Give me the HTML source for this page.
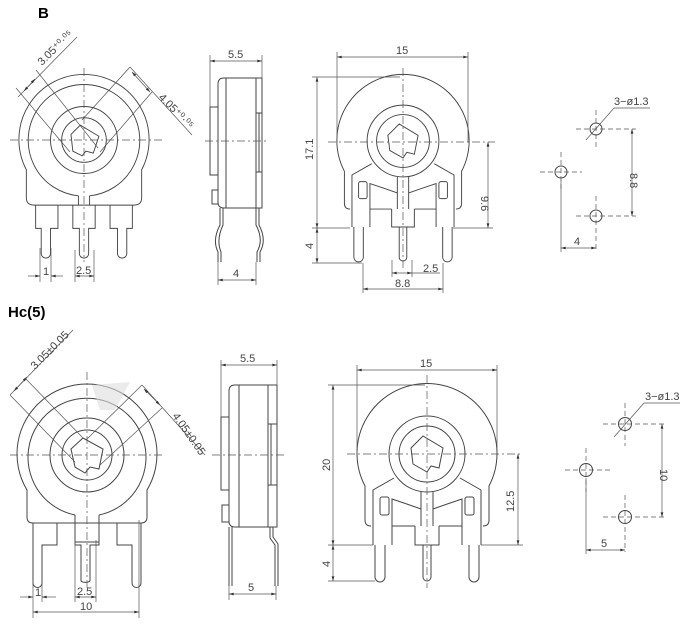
<!DOCTYPE html>
<html><head><meta charset="utf-8"><style>
html,body{margin:0;padding:0;background:#fff;}
svg{display:block;font-family:"Liberation Sans",sans-serif;}
.l{fill:none;stroke:#444;stroke-width:1;}
.t{fill:none;stroke:#555;stroke-width:0.7;}
.c{fill:none;stroke:#555;stroke-width:0.7;stroke-dasharray:8 3 2 3;}
.d{fill:none;stroke:#555;stroke-width:0.7;stroke-dasharray:5 3;}
text{fill:#444;font-size:11px;}
.h{fill:#000;font-weight:bold;font-size:15px;}
</style></head><body>
<svg width="690" height="624" viewBox="0 0 690 624" xmlns="http://www.w3.org/2000/svg">
<defs>
<marker id="a" viewBox="0 0 10 6" refX="10" refY="3" markerWidth="7" markerHeight="4" orient="auto-start-reverse"><path d="M0 0L10 3L0 6z" fill="#333"/></marker>
</defs>
<text x="38" y="18" class="h">B</text>
<text x="8" y="317" class="h">Hc(5)</text>

<!-- ========== Front view A (top-left) ========== -->
<g transform="translate(84,140) scale(0.93)">
 <g class="l">
  <path d="M-62 32 A70 70 0 1 1 62 32 V62 Q62 70 54 70 H-54 Q-62 70 -62 62 Z"/>
  <path d="M-6 60 A60 60 0 1 1 6 60"/>
  <line x1="-6" y1="60" x2="-6" y2="70"/><line x1="6" y1="60" x2="6" y2="70"/>
  <circle r="36"/><circle r="24"/>
  <path d="M-14 -6 L-4 -16 L16 -4 L10 14 L2 12 L-2 17 L-12 12 Z"/>
  <path d="M-52 70 V95 H-46 V122 A5 5 0 0 0 -36 122 V95 H-28 V70"/>
  <path d="M-12 70 V95 H-5 V122 A5 5 0 0 0 5 122 V95 H12 V70"/>
  <path d="M28 70 V95 H36 V122 A5 5 0 0 0 46 122 V95 H52 V70"/>
 </g>
</g>
<line class="c" x1="10" y1="140" x2="165" y2="140"/>
<line class="c" x1="84" y1="68" x2="84" y2="262"/>
<line class="t" x1="18" y1="97" x2="77" y2="37"/>
<line class="t" x1="16" y1="88" x2="70" y2="152" />
<line class="t" x1="36" y1="70" x2="98" y2="148"/>
<line class="t" x1="24" y1="91" x2="35" y2="79" marker-end="url(#a)" marker-start="url(#a)"/>
<text x="42" y="66" transform="rotate(-45 42 66)">3.05⁺⁰·⁰⁵</text>
<line class="t" x1="130" y1="67" x2="192" y2="135"/>
<line class="t" x1="130" y1="67" x2="82" y2="120"/>
<line class="t" x1="152" y1="92" x2="100" y2="152"/>
<line class="t" x1="132" y1="72" x2="150" y2="92" marker-end="url(#a)" marker-start="url(#a)"/>
<text x="158" y="98" transform="rotate(45 158 98)">4.05⁺⁰·⁰⁵</text>
<line class="t" x1="40" y1="248" x2="40" y2="282"/><line class="t" x1="51" y1="248" x2="51" y2="282"/>
<line class="t" x1="28" y1="276" x2="40" y2="276" marker-end="url(#a)"/><line class="t" x1="63" y1="276" x2="51" y2="276" marker-end="url(#a)"/>
<text x="43" y="275" font-size="10">1</text>
<line class="t" x1="75" y1="250" x2="75" y2="282"/><line class="t" x1="94" y1="250" x2="94" y2="282"/>
<line class="t" x1="75" y1="276" x2="94" y2="276" marker-end="url(#a)" marker-start="url(#a)"/>
<text x="76" y="274" font-size="10">2.5</text>

<!-- ========== Side view top ========== -->
<g class="l">
 <path d="M262 78 H224 Q218 78 218 84 V202 Q218 208 224 208 H262 Z"/>
 <line x1="226" y1="78" x2="226" y2="208"/>
 <rect x="210" y="107" width="8" height="68"/>
 <rect x="212" y="190" width="6" height="14"/>
 <path d="M256 78 V113 H262 M256 113 V172 H262 M256 172 V208"/><line x1="259" y1="113" x2="259" y2="172"/>
 <path d="M220 208 V225 Q212 240 218 252 V262 M223 208 V225 Q216 240 221 252 V262"/>
 <path d="M256 208 V225 Q264 240 257 252 V262 M259 208 V225 Q267 240 260 252 V262"/>
</g>
<line class="c" x1="205" y1="141" x2="268" y2="141"/>
<line class="t" x1="210" y1="55" x2="210" y2="107"/><line class="t" x1="262" y1="55" x2="262" y2="78"/>
<line class="t" x1="210" y1="61" x2="262" y2="61" marker-end="url(#a)" marker-start="url(#a)"/>
<text x="228" y="58">5.5</text>
<line class="t" x1="218" y1="262" x2="218" y2="285"/><line class="t" x1="256" y1="262" x2="256" y2="285"/>
<line class="t" x1="218" y1="280" x2="256" y2="280" marker-end="url(#a)" marker-start="url(#a)"/>
<text x="233" y="277">4</text>

<!-- ========== Front view B (top-right) ========== -->
<g transform="translate(403,141) scale(0.945)">
 <g class="l">
  <path d="M-62 32 A70 70 0 1 1 62 32 V66 Q62 72 56 72 M-62 32 V66 Q-62 72 -56 72"/>
  <circle r="38"/><circle r="28"/>
  <path d="M-16 -6 L-4 -18 L16 -6 L12 14 L4 12 L0 18 L-14 10 Z"/>
  <path d="M-54 91 V36 L-33 24 M54 91 V36 L33 24"/>
  <path d="M-35 91 V60 M35 91 V60 M-35 72 H-12 M35 72 H12"/>
  <path d="M-35 60 V45 Q-20 50 -6 55 M35 60 V45 Q20 50 6 55"/>
  <rect x="-47" y="43" width="9" height="18" rx="2"/><rect x="38" y="43" width="9" height="18" rx="2"/>
  <path d="M-6 38 V72 M6 38 V72 M-12 72 V91 H12 V72"/>
  <path d="M-4 91 V123 A4 4 0 0 0 4 123 V91"/>
  <path d="M-52 91 V123 A5 5 0 0 0 -42 123 V91"/>
  <path d="M42 91 V123 A5 5 0 0 0 52 123 V91"/>
 </g>
</g>
<line class="c" x1="328" y1="142" x2="495" y2="142"/>
<line class="c" x1="403" y1="68" x2="403" y2="268"/>
<line class="t" x1="337" y1="52" x2="337" y2="142"/><line class="t" x1="468" y1="52" x2="468" y2="142"/>
<line class="t" x1="337" y1="57" x2="468" y2="57" marker-end="url(#a)" marker-start="url(#a)"/>
<text x="396" y="54">15</text>
<line class="t" x1="312" y1="77" x2="400" y2="77"/><line class="t" x1="312" y1="228" x2="350" y2="228"/><line class="t" x1="312" y1="263" x2="362" y2="263"/>
<line class="t" x1="317" y1="77" x2="317" y2="228" marker-end="url(#a)" marker-start="url(#a)"/>
<line class="t" x1="317" y1="228" x2="317" y2="263" marker-end="url(#a)" marker-start="url(#a)"/>
<text x="313" y="160" transform="rotate(-90 313 160)">17.1</text>
<text x="313" y="249" transform="rotate(-90 313 249)">4</text>
<line class="t" x1="453" y1="228" x2="493" y2="228"/>
<line class="t" x1="488" y1="142" x2="488" y2="228" marker-end="url(#a)" marker-start="url(#a)"/>
<text x="497" y="190" transform="rotate(90 486 185)">9.6</text>
<line class="t" x1="363" y1="263" x2="363" y2="293"/><line class="t" x1="443" y1="263" x2="443" y2="293"/>
<line class="t" x1="363" y1="289" x2="443" y2="289" marker-end="url(#a)" marker-start="url(#a)"/>
<text x="395" y="287">8.8</text>
<line class="t" x1="392" y1="260" x2="392" y2="277"/><line class="t" x1="412" y1="260" x2="412" y2="277"/>
<line class="t" x1="392" y1="273" x2="412" y2="273" marker-end="url(#a)" marker-start="url(#a)"/>
<text x="423" y="272">2.5</text><line class="t" x1="412" y1="273" x2="440" y2="273"/>

<!-- ========== Holes top ========== -->
<g class="l"><circle cx="596" cy="129" r="6"/><circle cx="561" cy="172" r="6"/><circle cx="596" cy="216" r="6"/></g>
<g class="d">
 <line x1="576" y1="129" x2="636" y2="129"/><line x1="596" y1="110" x2="596" y2="150"/>
 <line x1="540" y1="172" x2="582" y2="172"/><line x1="561" y1="152" x2="561" y2="192"/>
 <line x1="576" y1="216" x2="636" y2="216"/><line x1="596" y1="196" x2="596" y2="250"/>
</g>
<line class="t" x1="561" y1="180" x2="561" y2="252"/>
<line class="t" x1="632" y1="129" x2="632" y2="216" marker-end="url(#a)" marker-start="url(#a)"/>
<text x="637" y="166" transform="rotate(90 630 166)">8.8</text>
<line class="t" x1="561" y1="248" x2="596" y2="248" marker-end="url(#a)" marker-start="url(#a)"/>
<text x="574" y="245">4</text>
<line class="t" x1="586" y1="140" x2="614" y2="108"/><line class="t" x1="614" y1="108" x2="650" y2="108"/>
<text x="614" y="105" font-size="10">3−ø1.3</text>

<!-- ========== Front view A bottom ========== -->
<g transform="translate(87,455)">
 <g class="l">
  <path d="M-60 35 A70 70 0 1 1 60 35 V62 Q60 68 54 68 H-54 Q-60 68 -60 62 Z"/>
  <path d="M-12 60 A59 59 0 1 1 12 60"/>
  <line x1="-12" y1="60" x2="-12" y2="68"/><line x1="12" y1="60" x2="12" y2="68"/>
  <circle r="37"/><circle r="25"/>
  <path d="M-16 -6 L-4 -17 L16 -6 L12 14 L3 12 L-2 18 L-12 12 Z"/>
  <path d="M-54 68 V128 A4.5 4.5 0 0 0 -45 128 V90 H-30 V68"/>
  <path d="M54 68 V128 A4.5 4.5 0 0 1 45 128 V90 H30 V68"/>
  <path d="M-12 68 V87 H12 V68 M-12 87 V90 H-6 V126 A6 4 0 0 0 3 126 V90 H12 V87"/>
 </g>
</g>
<path d="M92 385 L100 410 L115 410 L130 382 Z" fill="#ddd" opacity="0.6"/>
<line class="c" x1="10" y1="455" x2="165" y2="455"/>
<line class="c" x1="87" y1="372" x2="87" y2="590"/>
<line class="t" x1="10" y1="395" x2="73" y2="330"/>
<line class="t" x1="10" y1="395" x2="75" y2="462"/>
<line class="t" x1="25" y1="378" x2="83" y2="438"/>
<line class="t" x1="14" y1="391" x2="27" y2="377" marker-end="url(#a)" marker-start="url(#a)"/>
<text x="35" y="370" transform="rotate(-45 35 370)">3.05±0.05</text>
<line class="t" x1="142" y1="385" x2="205" y2="455"/>
<line class="t" x1="142" y1="385" x2="86" y2="440"/>
<line class="t" x1="162" y1="408" x2="100" y2="465"/>
<line class="t" x1="144" y1="389" x2="160" y2="405" marker-end="url(#a)" marker-start="url(#a)"/>
<text x="172" y="416" transform="rotate(55 172 416)">4.05±0.05</text>
<line class="t" x1="33" y1="580" x2="33" y2="618"/><line class="t" x1="42" y1="580" x2="42" y2="602"/>
<line class="t" x1="20" y1="597" x2="33" y2="597" marker-end="url(#a)"/><line class="t" x1="56" y1="597" x2="42" y2="597" marker-end="url(#a)"/>
<text x="35" y="596" font-size="10">1</text>
<line class="t" x1="75" y1="540" x2="75" y2="602"/><line class="t" x1="96" y1="540" x2="96" y2="602"/>
<line class="t" x1="75" y1="597" x2="96" y2="597" marker-end="url(#a)" marker-start="url(#a)"/>
<text x="77" y="595" font-size="10">2.5</text>
<line class="t" x1="139" y1="520" x2="139" y2="618"/>
<line class="t" x1="33" y1="612" x2="139" y2="612" marker-end="url(#a)" marker-start="url(#a)"/>
<text x="80" y="610">10</text>

<!-- ========== Side view bottom ========== -->
<g class="l">
 <path d="M277 385 H235 Q229 385 229 391 V521 Q229 527 235 527 H277 Z"/>
 <line x1="239" y1="385" x2="239" y2="527"/>
 <rect x="221" y="417" width="8" height="73"/>
 <rect x="222" y="505" width="7" height="17"/>
 <path d="M268 385 V424 H277 M268 424 V485 H277 M268 485 V527"/><line x1="271" y1="424" x2="271" y2="485"/>
 <path d="M229 527 V586 M232 527 V586"/>
 <path d="M270 527 V538 L275 545 V586 M273 527 V537 L278 544 V586"/>
</g>
<line class="c" x1="212" y1="455" x2="284" y2="455"/>
<line class="t" x1="221" y1="360" x2="221" y2="417"/><line class="t" x1="277" y1="360" x2="277" y2="385"/>
<line class="t" x1="221" y1="365" x2="277" y2="365" marker-end="url(#a)" marker-start="url(#a)"/>
<text x="240" y="362">5.5</text>
<line class="t" x1="229" y1="586" x2="229" y2="600"/><line class="t" x1="276" y1="586" x2="276" y2="600"/>
<line class="t" x1="229" y1="594" x2="276" y2="594" marker-end="url(#a)" marker-start="url(#a)"/>
<text x="248" y="591">5</text>

<!-- ========== Front view B bottom ========== -->
<g transform="translate(427,454)">
 <g class="l">
  <path d="M-62 32 A70 70 0 1 1 62 32 V66 Q62 72 56 72 M-62 32 V66 Q-62 72 -56 72"/>
  <circle r="38"/><circle r="28"/>
  <path d="M-16 -6 L-4 -18 L16 -6 L12 14 L4 12 L0 18 L-14 10 Z"/>
  <path d="M-54 91 V36 L-33 24 M54 91 V36 L33 24"/>
  <path d="M-35 91 V60 M35 91 V60 M-35 72 H-12 M35 72 H12"/>
  <path d="M-35 60 V45 Q-20 50 -6 55 M35 60 V45 Q20 50 6 55"/>
  <rect x="-47" y="43" width="9" height="18" rx="2"/><rect x="38" y="43" width="9" height="18" rx="2"/>
  <path d="M-6 38 V72 M6 38 V72 M-12 72 V91 H12 V72"/>
  <path d="M-4 91 V123 A4 4 0 0 0 4 123 V91"/>
  <path d="M-52 91 V123 A5 5 0 0 0 -42 123 V91"/>
  <path d="M42 91 V123 A5 5 0 0 0 52 123 V91"/>
 </g>
</g>
<line class="c" x1="347" y1="454" x2="520" y2="454"/>
<line class="c" x1="427" y1="375" x2="427" y2="588"/>
<line class="t" x1="357" y1="365" x2="357" y2="454"/><line class="t" x1="497" y1="365" x2="497" y2="454"/>
<line class="t" x1="357" y1="370" x2="497" y2="370" marker-end="url(#a)" marker-start="url(#a)"/>
<text x="420" y="367">15</text>
<line class="t" x1="328" y1="385" x2="425" y2="385"/><line class="t" x1="328" y1="545" x2="373" y2="545"/><line class="t" x1="328" y1="581" x2="375" y2="581"/>
<line class="t" x1="333" y1="385" x2="333" y2="545" marker-end="url(#a)" marker-start="url(#a)"/>
<line class="t" x1="333" y1="545" x2="333" y2="581" marker-end="url(#a)" marker-start="url(#a)"/>
<text x="330" y="471" transform="rotate(-90 330 471)">20</text>
<text x="330" y="567" transform="rotate(-90 330 567)">4</text>
<line class="t" x1="481" y1="545" x2="523" y2="545"/>
<line class="t" x1="518" y1="454" x2="518" y2="545" marker-end="url(#a)" marker-start="url(#a)"/>
<text x="514" y="512" transform="rotate(-90 514 512)">12.5</text>

<!-- ========== Holes bottom ========== -->
<g class="l"><circle cx="625" cy="424" r="6.5"/><circle cx="586" cy="470" r="6.5"/><circle cx="625" cy="517" r="6.5"/></g>
<g class="d">
 <line x1="603" y1="424" x2="664" y2="424"/><line x1="625" y1="403" x2="625" y2="446"/>
 <line x1="565" y1="470" x2="610" y2="470"/><line x1="586" y1="448" x2="586" y2="492"/>
 <line x1="603" y1="517" x2="664" y2="517"/><line x1="625" y1="495" x2="625" y2="552"/>
</g>
<line class="t" x1="586" y1="478" x2="586" y2="554"/>
<line class="t" x1="662" y1="424" x2="662" y2="517" marker-end="url(#a)" marker-start="url(#a)"/>
<text x="667" y="462" transform="rotate(90 660 462)">10</text>
<line class="t" x1="586" y1="550" x2="625" y2="550" marker-end="url(#a)" marker-start="url(#a)"/>
<text x="601" y="547">5</text>
<line class="t" x1="614" y1="437" x2="644" y2="403"/><line class="t" x1="644" y1="403" x2="680" y2="403"/>
<text x="645" y="400" font-size="10">3−ø1.3</text>
</svg>
</body></html>
